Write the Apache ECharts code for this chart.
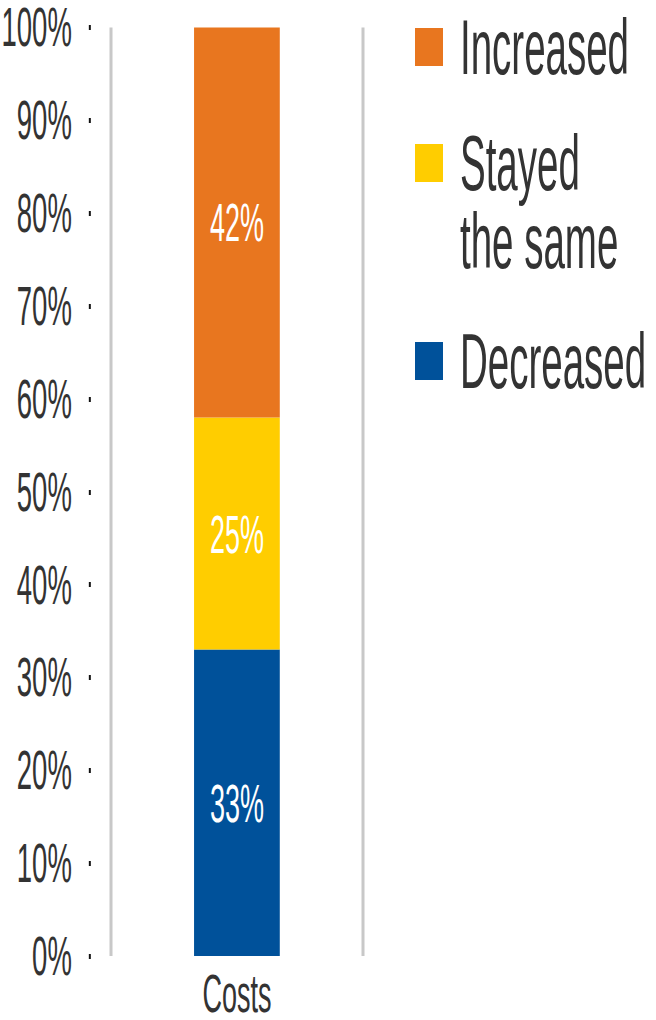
<!DOCTYPE html>
<html>
<head>
<meta charset="utf-8">
<script src="https://cdn.jsdelivr.net/npm/echarts@6/dist/echarts.min.js"></script>
<style>
body { margin: 0; overflow: hidden; background: #fff; }
/* the reference is squeezed sideways, so draw at double width and halve it */
#main {
  width: 1312px;
  height: 1020px;
  transform: scaleX(0.5);
  transform-origin: 0 0;
}
</style>
</head>
<body>
<div id="main"></div>
<script>
const categories = ['Costs']
const decreased = [33]
const stayedSame = [25]
const increased = [42]
const colors = { inc: '#E8761F', same: '#FFCD00', dec: '#00519A' }

const chart = echarts.init(document.getElementById('main'), null, { renderer: 'svg' })

function legendAt (name, top, text) {
  return {
    data: [name],
    left: 830,
    top: top,
    padding: 0,
    orient: 'vertical',
    icon: 'rect',
    itemWidth: 56,
    itemHeight: 38,
    selectedMode: false,
    formatter: function () { return text },
    textStyle: {
      fontFamily: 'Liberation Sans',
      fontSize: 77,
      lineHeight: 78,
      color: '#333',
      padding: [0, 0, 0, 29]
    }
  }
}

chart.setOption({
  animation: false,
  grid: { left: 220, right: 586, top: 24, bottom: 60 },
  legend: [
    legendAt('Increased', 8, 'Increased'),
    legendAt('Stayed the same', 46, '\nStayed\nthe same'),
    legendAt('Decreased', 322, 'Decreased')
  ],
  xAxis: {
    type: 'category',
    data: categories,
    axisLine: { show: false },
    axisTick: { show: false },
    axisLabel: { fontFamily: 'Liberation Sans', fontSize: 54, lineHeight: 42, color: '#333', margin: 16 },
    splitLine: { show: true, interval: 0, lineStyle: { color: '#c8c8c8', width: 6 } }
  },
  yAxis: {
    type: 'value',
    min: 0,
    max: 100,
    interval: 10,
    offset: 40,
    axisLine: { show: false },
    axisTick: { show: true, length: 4, lineStyle: { color: '#111', width: 5 } },
    splitLine: { show: false },
    axisLabel: { formatter: '{value}%', fontFamily: 'Liberation Sans', fontSize: 55, lineHeight: 42, color: '#333', margin: 38 }
  },
  series: [
    {
      name: 'Decreased',
      type: 'bar',
      stack: 'all',
      barWidth: '34%',
      data: decreased,
      itemStyle: { color: colors.dec },
      label: { show: true, position: 'inside', formatter: '{c}%', color: '#fff', fontFamily: 'Liberation Sans', fontSize: 54 }
    },
    {
      name: 'Stayed the same',
      type: 'bar',
      stack: 'all',
      data: stayedSame,
      itemStyle: { color: colors.same },
      label: { show: true, position: 'inside', formatter: '{c}%', color: '#fff', fontFamily: 'Liberation Sans', fontSize: 54 }
    },
    {
      name: 'Increased',
      type: 'bar',
      stack: 'all',
      data: increased,
      itemStyle: { color: colors.inc },
      label: { show: true, position: 'inside', formatter: '{c}%', color: '#fff', fontFamily: 'Liberation Sans', fontSize: 54 }
    }
  ]
})
</script>
</body>
</html>
